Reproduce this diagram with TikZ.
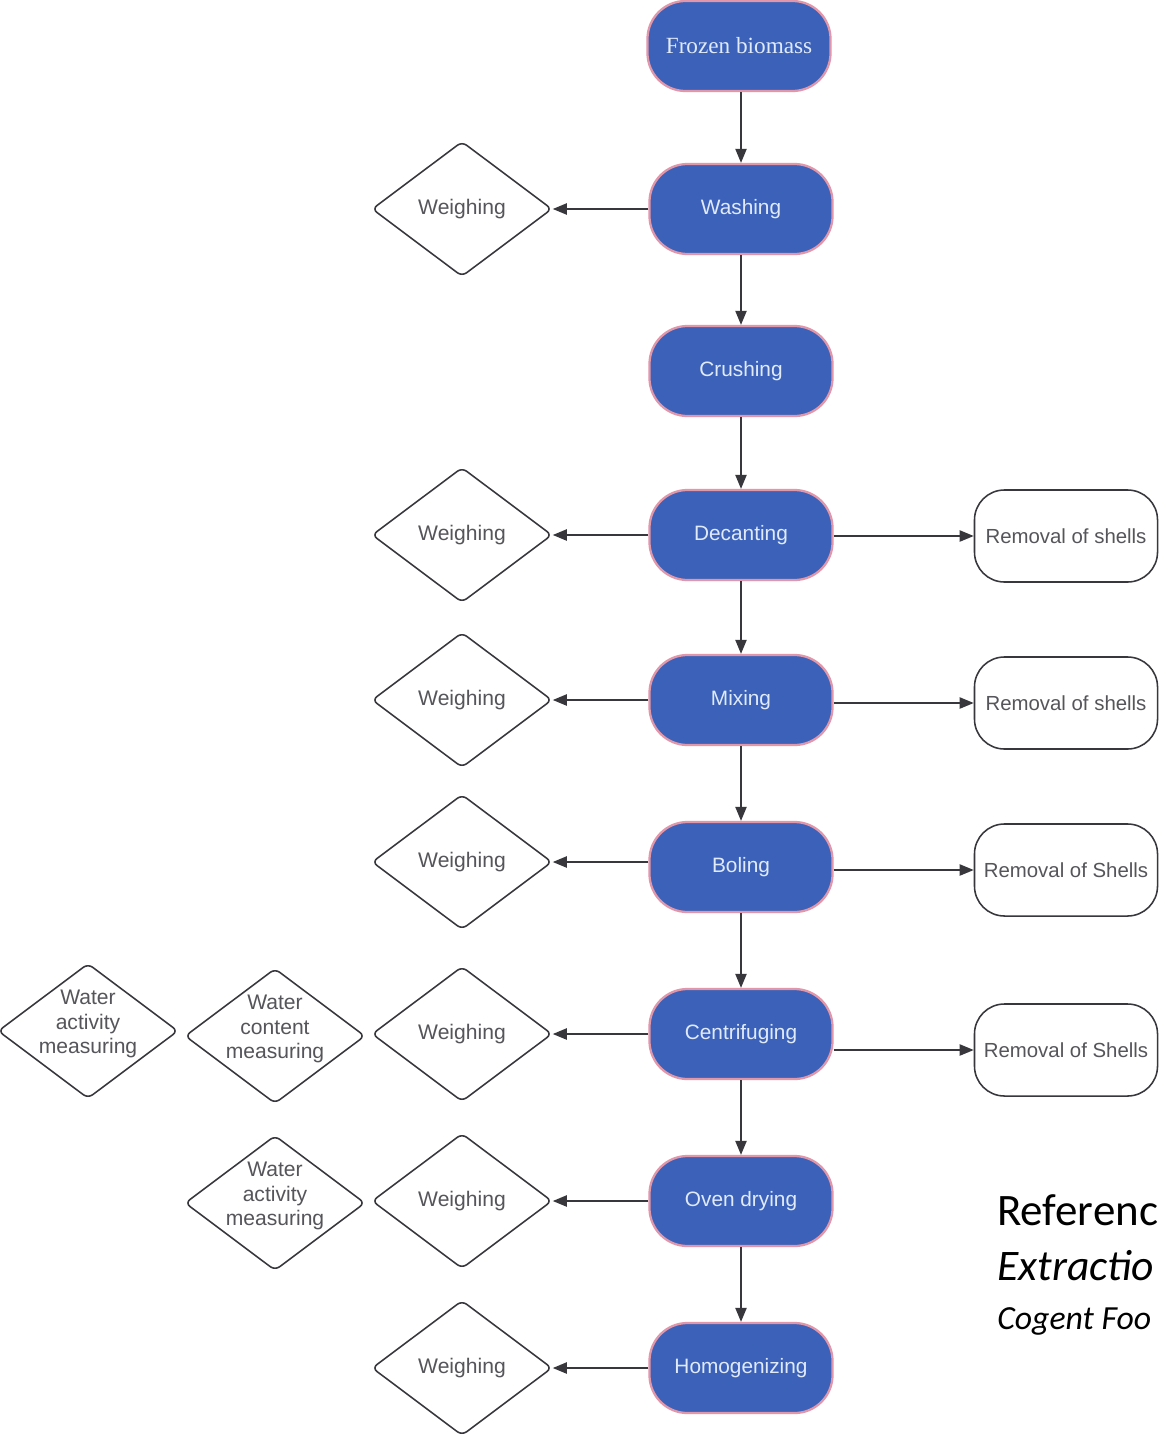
\documentclass[tikz,border=0pt]{standalone}
\usepackage{fontspec}
\setmainfont{Liberation Sans}
\newfontfamily\serifx{Liberation Serif}
\newfontfamily\calib{Carlito}
\usetikzlibrary{shapes.geometric,arrows.meta}
\definecolor{procblue}{RGB}{59,98,184}
\definecolor{procedge}{RGB}{226,150,170}
\definecolor{proctext}{RGB}{225,234,250}
\definecolor{linegray}{RGB}{55,55,60}
\definecolor{txtgray}{RGB}{85,85,90}
\newcommand{\threelines}[3]{\raisebox{1.2pt}[0pt][0pt]{\begin{tabular}{@{}c@{}}#1\\#2\\#3\end{tabular}}}
\tikzset{
  proc/.style={rectangle, rounded corners=0.95cm, fill=procblue, draw=procedge, line width=1.6pt,
    minimum width=4.575cm, minimum height=2.25cm, text=proctext, font=\fontsize{14.8}{17}\selectfont, inner sep=0pt},
  weigh/.style={diamond, draw=linegray, line width=1.1pt, rounded corners=4pt, fill=white,
    minimum width=4.5cm, minimum height=3.375cm, inner sep=0pt, text=txtgray,
    font=\fontsize{15}{17.5}\selectfont, align=center},
  removal/.style={rectangle, rounded corners=0.75cm, draw=linegray, line width=1.1pt,
    minimum width=4.575cm, minimum height=2.3cm, text=txtgray, font=\fontsize{14.5}{17}\selectfont, inner sep=0pt},
  flow/.style={draw=linegray, line width=1.1pt, -{Triangle[length=10pt,width=8pt]}},
}
\begin{document}
\begin{tikzpicture}[x=0.025cm,y=-0.025cm]
\useasboundingbox[fill=white] (0,0) rectangle (1160,1440);
% main process nodes
\node[proc, font=\serifx\fontsize{16.5}{19}\selectfont] (fb) at (739,46) {Frozen biomass};
\node[proc] (wash) at (741,209) {Washing};
\node[proc] (crush) at (741,371) {Crushing};
\node[proc] (dec) at (741,535) {Decanting};
\node[proc] (mix) at (741,700) {Mixing};
\node[proc] (boil) at (741,867) {Boling};
\node[proc] (cent) at (741,1034) {Centrifuging};
\node[proc] (oven) at (741,1201) {Oven drying};
\node[proc] (homo) at (741,1368) {Homogenizing};
% weighing diamonds
\node[weigh] (w1) at (462,209) {Weighing};
\node[weigh] (w2) at (462,535) {Weighing};
\node[weigh] (w3) at (462,700) {Weighing};
\node[weigh] (w4) at (462,862) {Weighing};
\node[weigh] (w5) at (462,1034) {Weighing};
\node[weigh] (w6) at (462,1201) {Weighing};
\node[weigh] (w7) at (462,1368) {Weighing};
% measuring diamonds
\node[weigh] (wa1) at (88,1031) {\threelines{Water}{activity}{measuring}};
\node[weigh] (wc1) at (275,1036) {\threelines{Water}{content}{measuring}};
\node[weigh] (wa2) at (275,1203) {\threelines{Water}{activity}{measuring}};
% removal nodes
\node[removal] (r1) at (1066,536) {Removal of shells};
\node[removal] (r2) at (1066,703) {Removal of shells};
\node[removal] (r3) at (1066,870) {Removal of Shells};
\node[removal] (r4) at (1066,1050) {Removal of Shells};
% vertical flow
\draw[flow] (fb.south -| wash) -- (wash.north);
\draw[flow] (wash) -- (crush);
\draw[flow] (crush) -- (dec);
\draw[flow] (dec) -- (mix);
\draw[flow] (mix) -- (boil);
\draw[flow] (boil) -- (cent);
\draw[flow] (cent) -- (oven);
\draw[flow] (oven) -- (homo);
% to weighing
\draw[flow] (wash) -- (w1);
\draw[flow] (dec) -- (w2);
\draw[flow] (mix) -- (w3);
\draw[flow] (boil.west |- w4) -- (w4.east);
\draw[flow] (cent) -- (w5);
\draw[flow] (oven) -- (w6);
\draw[flow] (homo) -- (w7);
% to removal
\draw[flow] (dec.east |- r1) -- (r1.west);
\draw[flow] (mix.east |- r2) -- (r2.west);
\draw[flow] (boil.east |- r3) -- (r3.west);
\draw[flow] (cent.east |- r4) -- (r4.west);
% reference text
\node[anchor=base west, inner sep=0pt, font=\calib\fontsize{32}{36}\selectfont] (ref1) at (997,1225) {Referenc};
\node[anchor=base west, inner sep=0pt, font=\calib\itshape\fontsize{31}{36}\selectfont] (ref2) at (997,1280) {Extractio};
\node[anchor=base west, inner sep=0pt, font=\calib\itshape\fontsize{24}{28}\selectfont] (ref3) at (997,1329) {Cogent Foo};
\end{tikzpicture}
\end{document}
